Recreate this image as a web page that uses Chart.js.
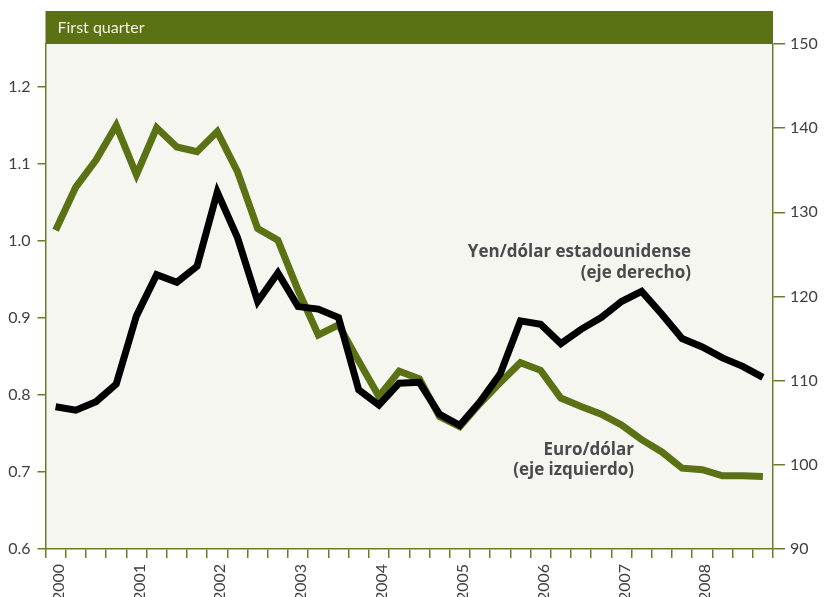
<!DOCTYPE html>
<html>
<head>
<meta charset="utf-8">
<script src="https://cdn.jsdelivr.net/npm/chart.js@4/dist/chart.umd.min.js"></script>
<style>
  body { margin: 0; background: #ffffff; }
  #fx { display: block; }
</style>
</head>
<body>
<canvas id="fx" width="827" height="597"></canvas>
<script>
// quarters 2000Q1 .. 2008Q4, label only on first quarter
var years = ["2000", "2001", "2002", "2003", "2004", "2005", "2006", "2007", "2008"];
var quarters = [];
years.forEach(function (y) { quarters.push(y, "", "", ""); });

// Euro/dólar (eje izquierdo)
var euroDolar = [1.014, 1.070, 1.105, 1.150, 1.086, 1.147, 1.122, 1.116, 1.142, 1.090,
  1.016, 1.001, 0.936, 0.878, 0.891, 0.844, 0.798, 0.831, 0.821, 0.772,
  0.759, 0.789, 0.816, 0.842, 0.832, 0.796, 0.785, 0.775, 0.761, 0.742,
  0.726, 0.705, 0.703, 0.695, 0.695, 0.694];

// Yen/dólar estadounidense (eje derecho)
var yenDolar = [106.9, 106.5, 107.5, 109.6, 117.7, 122.6, 121.7, 123.6, 132.4, 127.0,
  119.4, 122.8, 118.8, 118.5, 117.5, 108.9, 107.1, 109.7, 109.8, 106.0,
  104.7, 107.5, 110.8, 117.1, 116.7, 114.4, 116.1, 117.5, 119.4, 120.6,
  117.9, 115.0, 114.0, 112.7, 111.7, 110.4];

var leftTicks = [0.6, 0.7, 0.8, 0.9, 1.0, 1.1, 1.2];
var rightTicks = [90, 100, 110, 120, 130, 140, 150];

var green = '#5a7114';
var axisGreen = '#6b7d2a';
var tickText = '#404040';
var fontFam = 'Lato';

var frame = {
  id: 'frame',
  beforeDraw: function (chart) {
    var c = chart.ctx, a = chart.chartArea;
    c.save();
    c.fillStyle = '#f6f6f1';
    c.fillRect(a.left, a.top, a.right - a.left, a.bottom - a.top);
    c.fillStyle = green;
    c.fillRect(a.left, 11, a.right - a.left, a.top - 11);
    c.fillStyle = '#f2f2e6';
    c.font = '16px ' + fontFam;
    c.textBaseline = 'middle';
    c.fillText('First quarter', a.left + 12, 28);
    c.restore();
  },
  afterDatasetsDraw: function (chart) {
    var c = chart.ctx;
    c.save();
    c.fillStyle = '#4a4a4a';
    c.font = 'bold 17px "Open Sans"';
    c.textAlign = 'right';
    c.textBaseline = 'middle';
    c.fillText('Yen/dólar estadounidense', 691, 252);
    c.fillText('(eje derecho)', 691, 273);
    c.fillText('Euro/dólar', 634, 450);
    c.fillText('(eje izquierdo)', 634, 470);
    c.restore();
  }
};

var ctx = document.getElementById('fx').getContext('2d');
new Chart(ctx, {
  type: 'line',
  data: {
    labels: quarters,
    datasets: [{
      label: 'Yen/dólar estadounidense',
      data: yenDolar,
      yAxisID: 'y1',
      borderColor: '#000000',
      borderWidth: 7,
      borderJoinStyle: 'miter',
      pointRadius: 0,
      tension: 0
    }, {
      label: 'Euro/dólar',
      data: euroDolar,
      yAxisID: 'y',
      borderColor: green,
      borderWidth: 7,
      borderJoinStyle: 'miter',
      pointRadius: 0,
      tension: 0
    }]
  },
  options: {
    responsive: false,
    animation: false,
    layout: { padding: { top: 44, left: 0, right: 0, bottom: 0 } },
    plugins: {
      legend: { display: false },
      tooltip: { enabled: false }
    },
    scales: {
      x: {
        offset: true,
        grid: {
          offset: true,
          drawOnChartArea: false,
          color: axisGreen,
          tickColor: axisGreen,
          tickLength: 9,
          lineWidth: 1.5
        },
        border: { color: axisGreen, width: 1.5 },
        ticks: {
          autoSkip: false,
          maxRotation: 90,
          minRotation: 90,
          padding: 6,
          labelOffset: 3,
          color: tickText,
          font: { family: fontFam, size: 16 }
        },
        afterFit: function (s) { s.height = 48; }
      },
      y: {
        position: 'left',
        min: 0.6,
        max: 1.2558,
        afterBuildTicks: function (s) { s.ticks = leftTicks.map(function (v) { return { value: v }; }); },
        grid: { drawOnChartArea: false, color: axisGreen, tickLength: 8, lineWidth: 1.5 },
        border: { color: axisGreen, width: 1.5 },
        ticks: {
          padding: 7,
          color: tickText,
          font: { family: fontFam, size: 16 },
          callback: function (v) { return v.toFixed(1); }
        },
        afterFit: function (s) { s.width = 45.5; }
      },
      y1: {
        position: 'right',
        min: 90,
        max: 150,
        afterBuildTicks: function (s) { s.ticks = rightTicks.map(function (v) { return { value: v }; }); },
        grid: { drawOnChartArea: false, color: axisGreen, tickLength: 12, lineWidth: 1.5 },
        border: { color: axisGreen, width: 1.5 },
        ticks: {
          padding: 5,
          color: tickText,
          font: { family: fontFam, size: 16 }
        },
        afterFit: function (s) { s.width = 54; }
      }
    }
  },
  plugins: [frame]
});
</script>
</body>
</html>
